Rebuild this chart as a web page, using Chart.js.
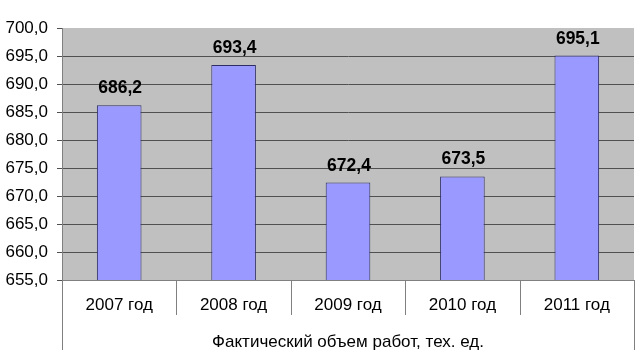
<!DOCTYPE html>
<html>
<head>
<meta charset="utf-8">
<script src="https://cdn.jsdelivr.net/npm/chart.js@4/dist/chart.umd.min.js"></script>
<style>
  body { margin: 0; background: #fff; }
</style>
</head>
<body>
<canvas id="chart" width="641" height="362"></canvas>
<script>
// Chart data
const years = ['2007 год', '2008 год', '2009 год', '2010 год', '2011 год'];
const volumes = [686.2, 693.4, 672.4, 673.5, 695.1];
const axisTitle = 'Фактический объем работ, тех. ед.';
const yMin = 655;
const yMax = 700;
const yStep = 5;

const fmt = (v) => v.toFixed(1).replace('.', ',');

// Plugin: value labels above bars
const barLabels = {
    id: 'barLabels',
    afterDatasetsDraw(chart) {
        const ctx = chart.ctx;
        const meta = chart.getDatasetMeta(0);
        ctx.save();
        ctx.font = 'bold 17.5px "Liberation Sans", Arial, sans-serif';
        ctx.fillStyle = '#000';
        ctx.textAlign = 'center';
        ctx.textBaseline = 'bottom';
        meta.data.forEach((bar, i) => {
            ctx.fillText(fmt(volumes[i]), bar.x + 1, bar.y - 8);
        });
        ctx.restore();
    }
};

// Plugin: category separators below the axis
const categoryLines = {
    id: 'categoryLines',
    afterDraw(chart) {
        const ctx = chart.ctx;
        const x = chart.scales.x;
        const area = chart.chartArea;
        const step = x.getPixelForValue(1) - x.getPixelForValue(0);
        ctx.save();
        ctx.strokeStyle = '#808080';
        ctx.lineWidth = 1;
        for (let i = 0; i <= years.length; i++) {
            const px = Math.round(x.getPixelForValue(i) - step / 2) + 0.5;
            const edge = (i === 0 || i === years.length);
            ctx.beginPath();
            ctx.moveTo(px, area.bottom);
            ctx.lineTo(px, edge ? area.bottom + 70 : area.bottom + 35);
            ctx.stroke();
        }
        ctx.restore();
    }
};

// Plugin: plot area background
const plotBg = {
    id: 'plotBg',
    beforeDraw(chart) {
        const a = chart.chartArea;
        chart.ctx.save();
        chart.ctx.fillStyle = '#c0c0c0';
        chart.ctx.fillRect(a.left, a.top, a.right - a.left, a.bottom - a.top);
        chart.ctx.restore();
    }
};

Chart.defaults.font.family = '"Liberation Sans", Arial, sans-serif';
Chart.defaults.font.size = 17;
Chart.defaults.color = '#000';

new Chart(document.getElementById('chart'), {
    type: 'bar',
    data: {
        labels: years,
        datasets: [{
            data: volumes,
            backgroundColor: '#9999ff',
            borderColor: '#2e2e66',
            borderWidth: 1,
            barPercentage: 0.39,
            categoryPercentage: 1
        }]
    },
    options: {
        responsive: false,
        animation: false,
        layout: { padding: { top: 28, right: 7, left: 0, bottom: 0 } },
        plugins: {
            legend: { display: false },
            tooltip: { enabled: false }
        },
        scales: {
            x: {
                grid: { display: false, drawTicks: false },
                border: { display: true, color: '#808080' },
                ticks: { padding: 15 },
                title: {
                    display: true,
                    text: axisTitle,
                    padding: { top: 0, bottom: 9 }
                },
                afterFit(scale) { scale.height = 82; }
            },
            y: {
                min: yMin,
                max: yMax,
                ticks: {
                    stepSize: yStep,
                    padding: 9,
                    callback: (v) => fmt(v)
                },
                grid: {
                    color: (c) => c.tick && c.tick.value === yMax ? 'rgba(0,0,0,0)' : '#505050',
                    tickColor: '#505050',
                    tickLength: 5
                },
                border: { display: true, color: '#808080' },
                afterFit(scale) { scale.width = 62; }
            }
        }
    },
    plugins: [plotBg, barLabels, categoryLines]
});
</script>
</body>
</html>
